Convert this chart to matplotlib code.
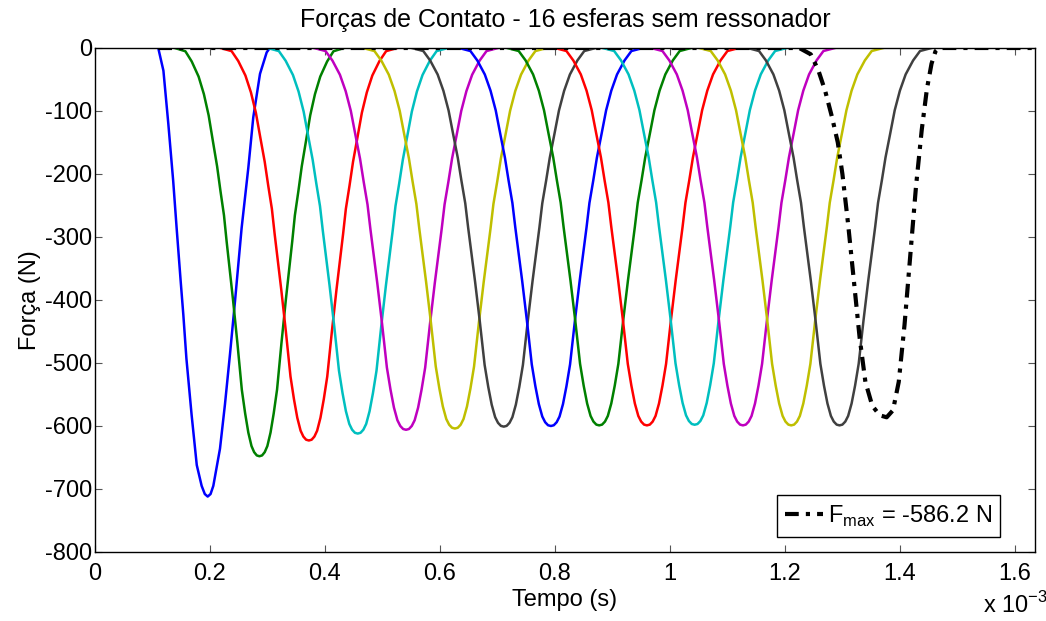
import matplotlib
matplotlib.use("Agg")
import matplotlib.pyplot as plt
import numpy as np
from matplotlib.ticker import FixedLocator, FuncFormatter

plt.rcParams['font.family'] = ['Liberation Sans', 'DejaVu Sans']
plt.rcParams['axes.unicode_minus'] = False

# ---- data -----------------------------------------------------------------
# Time of maximum compression of each contact (ms) and the peak force (N)
t_peak_ms = [0.286, 0.372, 0.457, 0.541, 0.626, 0.711, 0.793, 0.877,
             0.960, 1.043, 1.127, 1.211, 1.295]
f_peak = [-648, -623, -612, -606, -604, -601, -600, -599,
          -599, -598, -599, -599, -599]
# relative duration of each pulse
pulse_width = [0.92, 0.96, 0.98, 1.0, 1.0, 1.0, 1.0, 1.0,
               1.0, 1.0, 1.0, 1.0, 1.0]
# normalised shape of a contact pulse (rising half): offset from peak (ms), F/Fpeak
profile_dt = [-0.160, -0.140, -0.128, -0.115, -0.105, -0.096, -0.088, -0.080,
              -0.0736, -0.067, -0.062, -0.056, -0.050, -0.0417, -0.0333,
              -0.027, -0.021, -0.015, -0.010, -0.005, 0.0]
profile_f = [0.0, 0.008, 0.033, 0.070, 0.113, 0.165, 0.228, 0.290,
             0.351, 0.410, 0.474, 0.545, 0.616, 0.722, 0.837,
             0.895, 0.942, 0.975, 0.990, 0.998, 1.0]

# first contact (impact) - sharp onset
first_t_ms = [0.110, 0.119, 0.1275, 0.136, 0.142, 0.149, 0.1536, 0.159, 0.168,
              0.177, 0.1855, 0.191, 0.196, 0.201, 0.2058, 0.2174, 0.226, 0.2348,
              0.2435, 0.255, 0.2667, 0.2753, 0.287, 0.2986, 0.304]
first_f = [0, -36, -120, -211, -286, -370, -423, -493, -582,
           -662, -695, -708, -712, -708, -695, -636, -566, -486,
           -402, -286, -190, -110, -41, -7, 0]

# last contact
last_t_ms = [0.110, 1.225, 1.245, 1.258, 1.270, 1.282, 1.292, 1.300, 1.310,
             1.320, 1.330, 1.340, 1.352, 1.365, 1.377, 1.388, 1.398, 1.408,
             1.418, 1.428, 1.438, 1.447, 1.455, 1.462, 1.468, 1.635]
last_f = [0, 0, -10, -35, -68, -110, -150, -200, -280,
          -370, -460, -530, -568, -583, -586.2, -575, -530, -440,
          -330, -220, -130, -65, -25, -5, 0, 0]
f_max_last = -586.2

t_end_ms = 1.635
cycle = [(0, 0, 1), (0, 0.5, 0), (1, 0, 0), (0, 0.75, 0.75),
         (0.75, 0, 0.75), (0.75, 0.75, 0), (0.25, 0.25, 0.25)]

# ---- figure ---------------------------------------------------------------
fig = plt.figure(figsize=(10.46, 6.21), dpi=100)
ax = fig.add_axes([95 / 1046, 1 - 552 / 621, 940 / 1046, 504 / 621])

lw = 1.8
ax.plot(np.array(first_t_ms) * 1e-3, first_f, color=cycle[0], lw=lw)

dt = np.array(profile_dt)
pf = np.array(profile_f)
full_dt = np.concatenate([dt, -dt[::-1][1:]])
full_f = np.concatenate([pf, pf[::-1][1:]])
for i, (tp, fp, w) in enumerate(zip(t_peak_ms, f_peak, pulse_width)):
    t = (tp + w * full_dt) * 1e-3
    ax.plot(t, fp * full_f, color=cycle[(i + 1) % len(cycle)], lw=lw)

ax.plot(np.array(last_t_ms) * 1e-3, last_f, color='black', lw=3,
        linestyle=(0, (3.3, 1.7, 1.0, 1.7)),
        label=r'F$_{\mathregular{max}}$ = %.1f N' % f_max_last)

ax.set_xlim(0, t_end_ms * 1e-3)
ax.set_ylim(-800, 0)
ax.xaxis.set_major_locator(FixedLocator(np.arange(0, 1.61, 0.2) * 1e-3))
ax.xaxis.set_major_formatter(FuncFormatter(lambda v, p: '%g' % round(v * 1e3, 3)))
ax.yaxis.set_major_locator(FixedLocator(np.arange(-800, 1, 100)))

fs = 17
ax.tick_params(direction='in', top=True, right=True, length=5, width=0.8,
               color='#555555', labelsize=fs)
ax.tick_params(axis='x', pad=8)
ax.tick_params(axis='y', pad=2)
for s in ax.spines.values():
    s.set_linewidth(1.0)
    s.set_color('black')

ax.set_title('Forças de Contato - 16 esferas sem ressonador', fontsize=18, pad=15)
ax.set_xlabel('Tempo (s)', fontsize=fs, labelpad=3)
ax.set_ylabel('Força (N)', fontsize=fs, labelpad=3)

fig.text(983 / 1046, 1 - 613 / 621, r'x 10$^{\mathregular{-3}}$', fontsize=fs,
         va='baseline', ha='left')

leg = ax.legend(loc='lower right', bbox_to_anchor=(0.963, 0.03),
                borderaxespad=0, fontsize=fs, frameon=True, fancybox=False,
                framealpha=1, edgecolor='black', handlelength=1.6,
                handletextpad=0.2, borderpad=0.35)
leg.get_frame().set_linewidth(1.0)

fig.savefig('out.png', dpi=100)
